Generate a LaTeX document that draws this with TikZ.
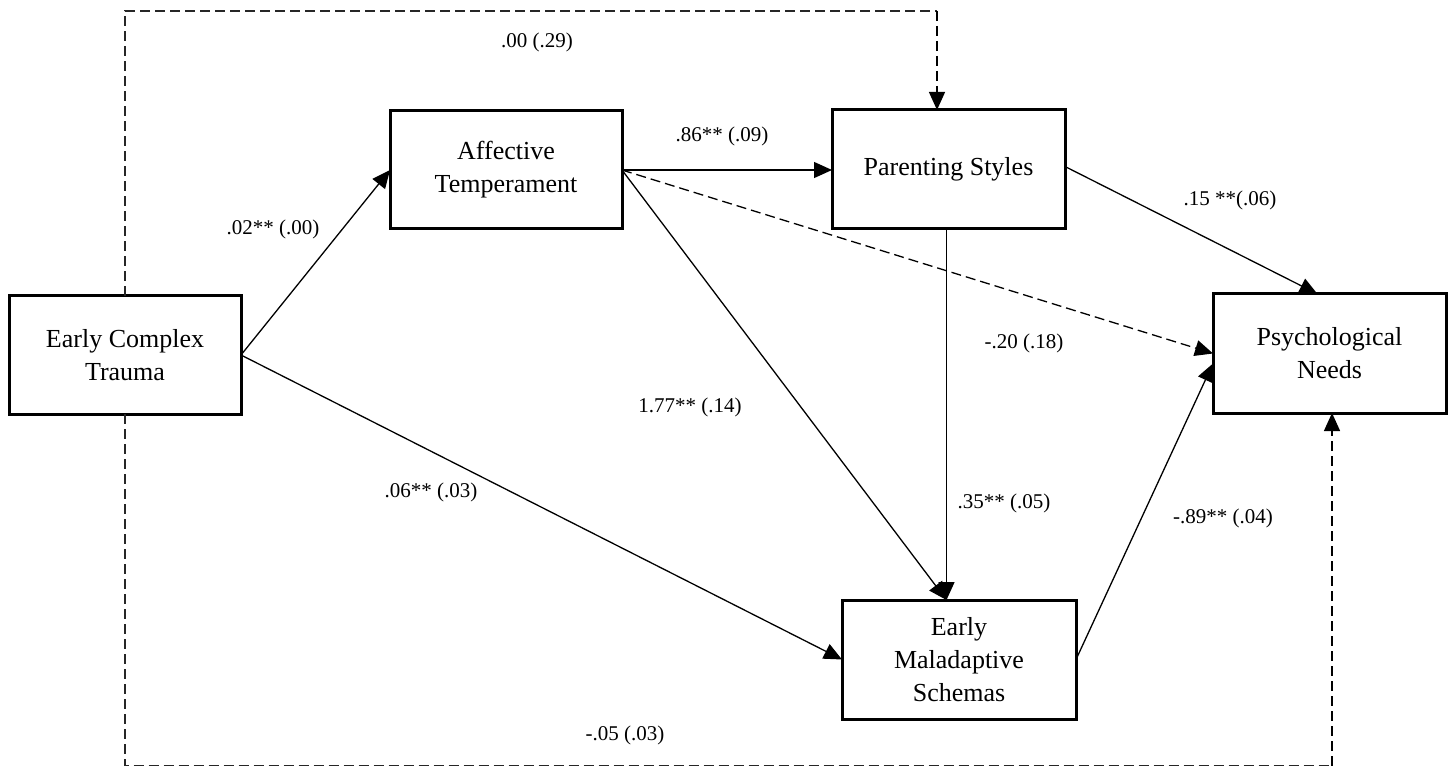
\documentclass[tikz,border=0pt]{standalone}
\usepackage{fontspec}
\setmainfont{Liberation Serif}
\usetikzlibrary{arrows.meta,calc}
\tikzset{
  box/.style={draw=black, line width=3pt, rectangle, minimum width=232pt, minimum height=118pt,
    align=center, inner sep=0pt, outer sep=0pt, font=\fontsize{26}{33}\selectfont},
  lbl/.style={font=\fontsize{21}{25}\selectfont, inner sep=0pt},
  conn/.style={draw=black, line width=1.3pt, -{Triangle[length=18pt,width=16pt]}},
  dconn/.style={conn, dash pattern=on 10pt off 5pt},
  dline/.style={draw=black!85, line width=1.3pt, dash pattern=on 10pt off 5pt}
}
\begin{document}
\begin{tikzpicture}[x=1pt,y=-1pt]
\useasboundingbox (0,0) rectangle (1451,767);
% nodes
\node[box] (ECT) at (125,355) {Early Complex\\Trauma};
\node[box] (AT)  at (506,170) {Affective\\Temperament};
\node[box, minimum width=233pt, minimum height=119pt] (PS)  at (948.5,169.5) {Parenting Styles};
\node[box, minimum width=233pt, minimum height=119pt] (PN)  at (1329.5,353.5) {Psychological\\Needs};
\node[box, minimum width=234pt, minimum height=119pt] (EMS) at (959,659.5) {Early\\Maladaptive\\Schemas};
% helper coordinates
\coordinate (emsin) at ($(PS.south |- EMS.north)+(-2,0)$);
\coordinate (pntop) at ($(PN.north)+(-12,0)$);
\coordinate (pnlow) at ($(PN.west)+(0,10)$);
\coordinate (toptr) at (937,11);
\coordinate (botr) at (1332,765.5);
% connectors
\draw[conn] (ECT.east) -- (AT.west);
\draw[conn] (AT.east) -- (PS.west |- AT.east);
\draw[dconn] (AT.east) -- (PN.west);
\draw[conn] (AT.east) -- (emsin);
\draw[conn] ($(PS.south)+(-2,0)$) -- (emsin);
\draw[conn] ($(PS.east)+(0,-3)$) -- (pntop);
\draw[conn] (ECT.east) -- (EMS.west);
\draw[conn] (EMS.east) -- (pnlow);
\draw[dline] (ECT.north) |- (toptr);
\draw[dconn] (toptr) -- (toptr |- PS.north);
\draw[dline] (ECT.south) |- (botr);
\draw[dconn] (botr) -- (botr |- PN.south);
% labels
\node[lbl] (l1) at (537,42) {.00 (.29)};
\node[lbl] (l2) at (273,229) {.02** (.00)};
\node[lbl] (l3) at (722,136) {.86** (.09)};
\node[lbl] (l4) at (1230,200) {.15 **(.06)};
\node[lbl] (l5) at (1024,343) {-.20 (.18)};
\node[lbl] (l6) at (690,407) {1.77** (.14)};
\node[lbl] (l7) at (1004,503) {.35** (.05)};
\node[lbl] (l8) at (1223,518) {-.89** (.04)};
\node[lbl] (l9) at (431,492) {.06** (.03)};
\node[lbl] (l10) at (625,735) {-.05 (.03)};
\end{tikzpicture}
\end{document}
